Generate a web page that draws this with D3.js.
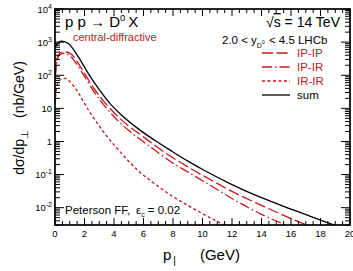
<!DOCTYPE html>
<html>
<head>
<meta charset="utf-8">
<script src="https://cdn.jsdelivr.net/npm/d3@7"></script>
<style>
  body { margin: 0; background: #fff; }
  text { font-family: "Liberation Sans", Arial, sans-serif; }
</style>
</head>
<body>
<div id="chart"></div>
<script>
// pT values (GeV) and dsigma/dpT (nb/GeV)
var pSum   = [0.02, 0.15, 0.41, 0.9, 1.58, 2.26, 2.94, 3.84, 4.52, 5.65, 6.78, 7.91, 9.04, 10.17, 12, 14, 16, 18, 19];
var vSum   = [700, 880, 1070, 910, 360, 112, 40, 12.3, 6.2, 2.4, 1.07, 0.51, 0.25, 0.13, 0.05, 0.02, 0.0091, 0.0042, 0.0029];

var pIPIP  = [0.02, 0.1, 0.25, 0.56, 1.02, 1.81, 2.49, 3.16, 4.07, 4.97, 5.88, 6.78, 7.91, 9.04, 10.17, 12, 14, 16, 17.2];
var vIPIP  = [100, 250, 420, 510, 455, 158, 50, 19.6, 6.9, 3.0, 1.5, 0.75, 0.34, 0.167, 0.087, 0.031, 0.0117, 0.0047, 0.0028];

var pIPIR  = [0.02, 0.1, 0.25, 0.56, 1.02, 1.81, 2.49, 3.16, 4.07, 4.97, 5.88, 6.78, 7.91, 9.04, 10.17, 12, 14, 15.8];
var vIPIR  = [90, 220, 380, 455, 380, 126, 40, 15.5, 5.2, 2.2, 1.07, 0.54, 0.235, 0.117, 0.059, 0.019, 0.0063, 0.0028];

var pIRIR  = [0.02, 0.1, 0.3, 0.68, 1.3, 2.26, 3.39, 4.52, 5.65, 6.78, 7.9, 9.04, 9.94, 11.6];
var vIRIR  = [15, 40, 70, 80, 45, 9, 1.7, 0.43, 0.13, 0.052, 0.023, 0.0115, 0.0068, 0.0028];

var xTicks = [0, 2, 4, 6, 8, 10, 12, 14, 16, 18, 20];
var yDecades = [1e-2, 1e-1, 1, 10, 1e2, 1e3, 1e4];
var yTickLabels = [["10", "-2"], ["10", "-1"], ["1", ""], ["10", ""], ["10", "2"], ["10", "3"], ["10", "4"]];

var seriesNames = ["IP-IP", "IP-IR", "IR-IR", "sum"];

var red = "#c4161c";
var width = 353, height = 271;
// plot frame edges (note: "top" is a reserved window global, so use other names)
var fL = 55, fR = 350, fT = 9, fB = 225;

var svg = d3.select("#chart").append("svg")
    .attr("width", width)
    .attr("height", height);

var x = d3.scaleLinear().domain([0, 20]).range([fL, fR]);
var y = d3.scaleLog().domain([3e-3, 1e4]).range([fB, fT]);

function zip(ps, vs) {
    return ps.map(function (p, i) { return { p: p, v: vs[i] }; });
}

var series = [
    { name: "IP-IP", data: zip(pIPIP, vIPIP), color: red, dash: "11,3.5", w: 1.3 },
    { name: "IP-IR", data: zip(pIPIR, vIPIR), color: red, dash: "10,3,1.5,3", w: 1.3 },
    { name: "IR-IR", data: zip(pIRIR, vIRIR), color: red, dash: "3,2.5", w: 1.3 },
    { name: "sum",   data: zip(pSum, vSum),   color: "#000", dash: null, w: 1.3 }
];

svg.append("clipPath").attr("id", "plotclip")
    .append("rect")
    .attr("x", fL).attr("y", fT)
    .attr("width", fR - fL).attr("height", fB - fT);

var line = d3.line()
    .x(function (d) { return x(d.p); })
    .y(function (d) { return y(d.v); })
    .curve(d3.curveMonotoneX);

svg.append("g").attr("clip-path", "url(#plotclip)")
    .selectAll("path")
    .data(series)
    .enter()
    .append("path")
    .attr("d", function (d) { return line(d.data); })
    .attr("fill", "none")
    .attr("stroke", function (d) { return d.color; })
    .attr("stroke-width", function (d) { return d.w; })
    .attr("stroke-dasharray", function (d) { return d.dash; });

// frame + ticks (inside, ROOT style)
var ticks = svg.append("g").attr("stroke", "#000").attr("stroke-width", 1);

var xMinor = d3.range(0, 20.01, 0.5);
xMinor.forEach(function (v) {
    var major = Math.abs(v / 2 - Math.round(v / 2)) < 1e-6;
    var len = major ? 7 : 4;
    ticks.append("line").attr("x1", x(v)).attr("x2", x(v)).attr("y1", fB).attr("y2", fB - len);
    ticks.append("line").attr("x1", x(v)).attr("x2", x(v)).attr("y1", fT).attr("y2", fT + len);
});

var yMinor = [];
for (var e = -3; e < 4; e++) {
    for (var k = 1; k < 10; k++) {
        var v = k * Math.pow(10, e);
        if (v >= 3e-3 && v <= 1e4) yMinor.push({ v: v, major: k === 1 });
    }
}
yMinor.push({ v: 1e4, major: true });
yMinor.forEach(function (t) {
    var len = t.major ? 9 : 5;
    ticks.append("line").attr("x1", fL).attr("x2", fL + len).attr("y1", y(t.v)).attr("y2", y(t.v));
    ticks.append("line").attr("x1", fR).attr("x2", fR - len).attr("y1", y(t.v)).attr("y2", y(t.v));
});

svg.append("rect")
    .attr("x", fL).attr("y", fT)
    .attr("width", fR - fL).attr("height", fB - fT)
    .attr("fill", "none").attr("stroke", "#000").attr("stroke-width", 1.7);

// tick labels
svg.append("g").selectAll("text")
    .data(xTicks)
    .enter().append("text")
    .attr("x", function (d) { return x(d); })
    .attr("y", fB + 12)
    .attr("text-anchor", "middle")
    .attr("font-size", 9.5)
    .text(function (d) { return d; });

var yl = svg.append("g").selectAll("text")
    .data(yDecades)
    .enter().append("text")
    .attr("x", fL - 3)
    .attr("y", function (d) { return y(d) + 3.5; })
    .attr("text-anchor", "end")
    .attr("font-size", 9.5);
yl.append("tspan").text(function (d, i) { return yTickLabels[i][0]; });
yl.append("tspan")
    .attr("font-size", 7)
    .attr("dy", -4)
    .text(function (d, i) { return yTickLabels[i][1]; });

// axis titles
var xt = svg.append("text")
    .attr("x", 163).attr("y", 260)
    .attr("font-size", 15);
xt.append("tspan").text("p");
xt.append("tspan").attr("font-size", 10).attr("dy", 4).attr("dx", 2).text("|");
xt.append("tspan").attr("dy", -4).attr("dx", 24).text("(GeV)");

var yt = svg.append("text")
    .attr("transform", "translate(24,118) rotate(-90)")
    .attr("text-anchor", "middle")
    .attr("font-size", 14);
yt.append("tspan").text("dσ/dp");
yt.append("tspan").attr("font-size", 10).attr("dy", 4).text("⊥");
yt.append("tspan").attr("dy", -4).attr("dx", 12).text("(nb/GeV)");

// annotations
var t1 = svg.append("text").attr("x", 65).attr("y", 27).attr("font-size", 15);
t1.append("tspan").text("p p → D");
t1.append("tspan").attr("font-size", 9.5).attr("dy", -6.5).text("0");
t1.append("tspan").attr("dy", 6.5).attr("dx", 3).text("X");

svg.append("text").attr("x", 73).attr("y", 41)
    .attr("font-size", 11).attr("fill", red)
    .text("central-diffractive");

var t2 = svg.append("text").attr("x", 340).attr("y", 27)
    .attr("text-anchor", "end").attr("font-size", 14);
t2.append("tspan").text("√");
t2.append("tspan").attr("text-decoration", "overline").text("s");
t2.append("tspan").text(" = 14 TeV");

var t3 = svg.append("text").attr("x", 222).attr("y", 44).attr("font-size", 11.5);
t3.append("tspan").text("2.0 < y");
t3.append("tspan").attr("font-size", 7).attr("dy", 4).text("D");
t3.append("tspan").attr("font-size", 5).attr("dy", -4).text("0");
t3.append("tspan").attr("dy", 0).attr("dx", 1).text(" < 4.5  LHCb");

var t4 = svg.append("text").attr("x", 65).attr("y", 214).attr("font-size", 11.5);
t4.append("tspan").text("Peterson FF,");
t4.append("tspan").attr("x", 136).text("ε");
t4.append("tspan").attr("font-size", 7).attr("dy", 3).text("c");
t4.append("tspan").attr("dy", -3).text(" = 0.02");

// legend
var legend = svg.append("g").selectAll("g")
    .data(series)
    .enter().append("g")
    .attr("transform", function (d, i) { return "translate(262," + (53 + i * 14) + ")"; });
legend.append("line")
    .attr("x1", 0).attr("x2", 28)
    .attr("stroke", function (d) { return d.color; })
    .attr("stroke-width", function (d) { return d.w; })
    .attr("stroke-dasharray", function (d) { return d.dash; });
legend.append("text")
    .attr("x", 35).attr("y", 4)
    .attr("font-size", 11.5)
    .attr("fill", function (d) { return d.color; })
    .text(function (d, i) { return seriesNames[i]; });
</script>
</body>
</html>
